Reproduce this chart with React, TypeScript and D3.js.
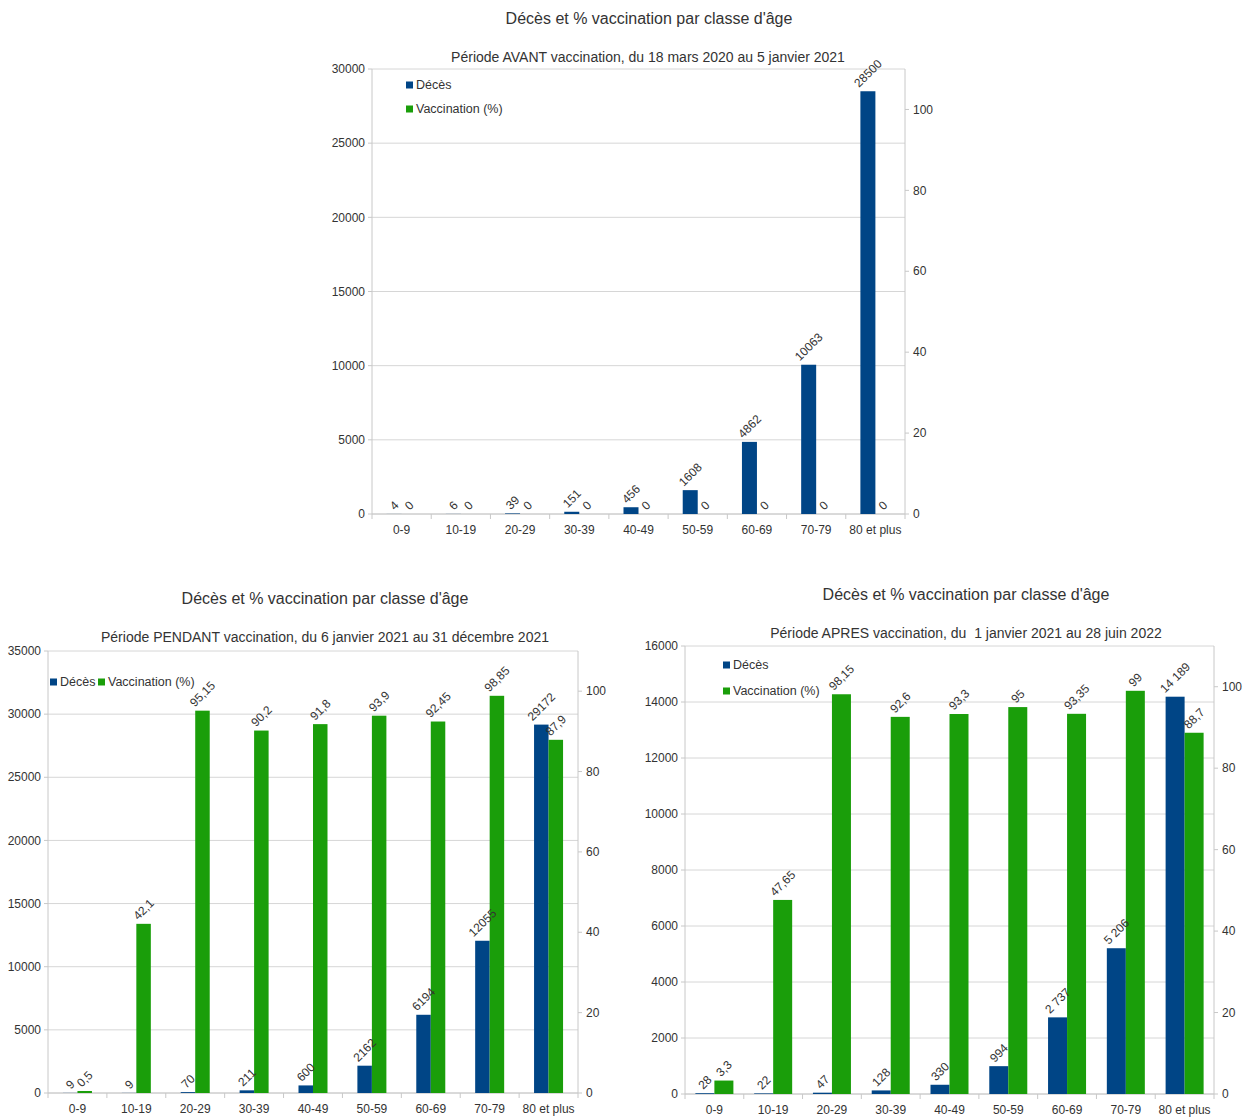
import React, { useEffect, useRef } from "react";
import * as d3 from "d3";

// Age groups shared by the three charts
const ageGroups = ["0-9", "10-19", "20-29", "30-39", "40-49", "50-59", "60-69", "70-79", "80 et plus"];

// Period before vaccination (18 mars 2020 – 5 janvier 2021)
const deathsBefore = [4, 6, 39, 151, 456, 1608, 4862, 10063, 28500];
const vaccBefore = [0, 0, 0, 0, 0, 0, 0, 0, 0];

// Period during vaccination (6 janvier 2021 – 31 décembre 2021)
const deathsDuring = [9, 9, 70, 211, 600, 2162, 6194, 12055, 29172];
const vaccDuring = [0.5, 42.1, 95.15, 90.2, 91.8, 93.9, 92.45, 98.85, 87.9];

// Period after vaccination (1 janvier 2021 – 28 juin 2022)
const deathsAfter = [28, 22, 47, 128, 330, 994, 2737, 5206, 14189];
const vaccAfter = [3.3, 47.65, 98.15, 92.6, 93.3, 95, 93.35, 99, 88.7];

// Axis ticks
const deathTicksBefore = [0, 5000, 10000, 15000, 20000, 25000, 30000];
const deathTicksDuring = [0, 5000, 10000, 15000, 20000, 25000, 30000, 35000];
const deathTicksAfter = [0, 2000, 4000, 6000, 8000, 10000, 12000, 14000, 16000];
const vaccTicks = [0, 20, 40, 60, 80, 100];
const vaccMax = 110;

const mainTitle = "Décès et % vaccination par classe d'âge";
const seriesNames = ["Décès", "Vaccination (%)"];

const BLUE = "#004586";
const GREEN = "#1a9e0a";
const TEXT = "#333333";
const FONT = "'Liberation Sans', Arial, sans-serif";

const frLocale = d3.formatLocale({ decimal: ",", thousands: " ", grouping: [3], currency: ["", " €"] });
const plainInt = (v: number) => String(v);
const spacedInt = frLocale.format(",d");
const pct = (v: number) => String(v).replace(".", ",");

type ChartCfg = {
  subtitle: string;
  titleX: number;
  titleY: number;
  subX: number;
  subY: number;
  left: number;
  right: number;
  top: number;
  bottom: number;
  deathMax: number;
  deathTicks: number[];
  deaths: number[];
  vacc: number[];
  barW: number;
  deathFmt: (v: number) => string;
  legend: { horizontal: boolean; x: number; y: number; gap: number };
};

const charts: ChartCfg[] = [
  {
    subtitle: "Période AVANT vaccination, du 18 mars 2020 au 5 janvier 2021",
    titleX: 649, titleY: 24, subX: 648, subY: 62,
    left: 372, right: 905, top: 69, bottom: 514,
    deathMax: 30000, deathTicks: deathTicksBefore,
    deaths: deathsBefore, vacc: vaccBefore, barW: 15,
    deathFmt: plainInt,
    legend: { horizontal: false, x: 406, y: 85, gap: 24 },
  },
  {
    subtitle: "Période PENDANT vaccination, du 6 janvier 2021 au 31 décembre 2021",
    titleX: 325, titleY: 604, subX: 325, subY: 642,
    left: 48, right: 578, top: 651, bottom: 1093,
    deathMax: 35000, deathTicks: deathTicksDuring,
    deaths: deathsDuring, vacc: vaccDuring, barW: 14.5,
    deathFmt: plainInt,
    legend: { horizontal: true, x: 50, y: 682, gap: 48 },
  },
  {
    subtitle: "Période APRES vaccination, du  1 janvier 2021 au 28 juin 2022",
    titleX: 966, titleY: 600, subX: 966, subY: 638,
    left: 685, right: 1214, top: 646, bottom: 1094,
    deathMax: 16000, deathTicks: deathTicksAfter,
    deaths: deathsAfter, vacc: vaccAfter, barW: 19,
    deathFmt: spacedInt,
    legend: { horizontal: false, x: 723, y: 665, gap: 26 },
  },
];

function drawChart(root: d3.Selection<SVGGElement, unknown, null, undefined>, c: ChartCfg) {
  const g = root.append("g").attr("font-family", FONT).attr("fill", TEXT);

  const x = d3.scaleBand<string>().domain(ageGroups).range([c.left, c.right]);
  const yL = d3.scaleLinear().domain([0, c.deathMax]).range([c.bottom, c.top]);
  const yR = d3.scaleLinear().domain([0, vaccMax]).range([c.bottom, c.top]);

  // titles
  g.append("text")
    .attr("x", c.titleX).attr("y", c.titleY)
    .attr("text-anchor", "middle").attr("font-size", 16)
    .text(mainTitle);
  g.append("text")
    .attr("x", c.subX).attr("y", c.subY)
    .attr("text-anchor", "middle").attr("font-size", 14)
    .style("white-space", "pre")
    .text(c.subtitle);

  // horizontal gridlines
  g.append("g").selectAll("line").data(c.deathTicks).join("line")
    .attr("x1", c.left).attr("x2", c.right)
    .attr("y1", (d) => yL(d)).attr("y2", (d) => yL(d))
    .attr("stroke", "#d6d6d6").attr("stroke-width", 1);

  // left axis
  const la = g.append("g");
  la.append("line").attr("x1", c.left).attr("x2", c.left).attr("y1", c.top).attr("y2", c.bottom)
    .attr("stroke", "#c8c8c8");
  la.selectAll("line.t").data(c.deathTicks).join("line").attr("class", "t")
    .attr("x1", c.left - 4).attr("x2", c.left).attr("y1", (d) => yL(d)).attr("y2", (d) => yL(d))
    .attr("stroke", "#c8c8c8");
  la.selectAll("text").data(c.deathTicks).join("text")
    .attr("x", c.left - 7).attr("y", (d) => yL(d)).attr("dy", "0.35em")
    .attr("text-anchor", "end").attr("font-size", 12)
    .text((d) => String(d));

  // right axis
  const ra = g.append("g");
  ra.append("line").attr("x1", c.right).attr("x2", c.right).attr("y1", c.top).attr("y2", c.bottom)
    .attr("stroke", "#c8c8c8");
  ra.selectAll("line.t").data(vaccTicks).join("line").attr("class", "t")
    .attr("x1", c.right).attr("x2", c.right + 4).attr("y1", (d) => yR(d)).attr("y2", (d) => yR(d))
    .attr("stroke", "#c8c8c8");
  ra.selectAll("text").data(vaccTicks).join("text")
    .attr("x", c.right + 8).attr("y", (d) => yR(d)).attr("dy", "0.35em")
    .attr("text-anchor", "start").attr("font-size", 12)
    .text((d) => String(d));

  // category axis
  const xa = g.append("g");
  xa.append("line").attr("x1", c.left).attr("x2", c.right).attr("y1", c.bottom).attr("y2", c.bottom)
    .attr("stroke", "#c8c8c8");
  const bounds = ageGroups.map((a) => x(a) as number).concat([c.right]);
  xa.selectAll("line.t").data(bounds).join("line").attr("class", "t")
    .attr("x1", (d) => d).attr("x2", (d) => d).attr("y1", c.bottom).attr("y2", c.bottom + 5)
    .attr("stroke", "#c8c8c8");
  xa.selectAll("text").data(ageGroups).join("text")
    .attr("x", (d) => (x(d) as number) + x.bandwidth() / 2).attr("y", c.bottom + 20)
    .attr("text-anchor", "middle").attr("font-size", 12)
    .text((d) => d);

  const mid = (a: string) => (x(a) as number) + x.bandwidth() / 2;

  // bars
  const bars = g.append("g");
  bars.selectAll("rect.d").data(c.deaths).join("rect").attr("class", "d")
    .attr("x", (_, i) => mid(ageGroups[i]) - c.barW).attr("width", c.barW)
    .attr("y", (d) => yL(d)).attr("height", (d) => c.bottom - yL(d))
    .attr("fill", BLUE);
  bars.selectAll("rect.v").data(c.vacc).join("rect").attr("class", "v")
    .attr("x", (_, i) => mid(ageGroups[i])).attr("width", c.barW)
    .attr("y", (d) => yR(d)).attr("height", (d) => c.bottom - yR(d))
    .attr("fill", GREEN);

  // rotated value labels, centred above each bar
  const labels = g.append("g").attr("font-size", 12);
  const place = (cx: number, top: number, txt: string) => {
    const t = labels.append("text").attr("text-anchor", "middle").attr("dy", "0.35em").text(txt);
    const w = (t.node() as SVGTextElement).getComputedTextLength();
    const h = 9;
    const cy = top - 3 - (w + h) * 0.3536;
    t.attr("transform", `translate(${cx},${cy}) rotate(-45)`);
  };
  c.deaths.forEach((v, i) => place(mid(ageGroups[i]) - c.barW / 2, yL(v), c.deathFmt(v)));
  c.vacc.forEach((v, i) => place(mid(ageGroups[i]) + c.barW / 2, yR(v), pct(v)));

  // legend
  const lg = g.append("g").attr("font-size", 12.5);
  [BLUE, GREEN].forEach((col, i) => {
    const lx = c.legend.horizontal ? c.legend.x + i * c.legend.gap : c.legend.x;
    const ly = c.legend.horizontal ? c.legend.y : c.legend.y + i * c.legend.gap;
    lg.append("rect").attr("x", lx).attr("y", ly - 3.5).attr("width", 7).attr("height", 7).attr("fill", col);
    lg.append("text").attr("x", lx + 10).attr("y", ly).attr("dy", "0.35em").text(seriesNames[i]);
  });
}

export default function App() {
  const ref = useRef<SVGSVGElement | null>(null);

  useEffect(() => {
    if (!ref.current) return;
    const svg = d3.select(ref.current);
    svg.selectAll("*").remove();
    const root = svg.append("g");
    charts.forEach((c) => drawChart(root as any, c));
  }, []);

  return (
    <svg
      ref={ref}
      width={1251}
      height={1117}
      style={{ position: "absolute", left: 0, top: 0, background: "#ffffff", display: "block" }}
    />
  );
}
